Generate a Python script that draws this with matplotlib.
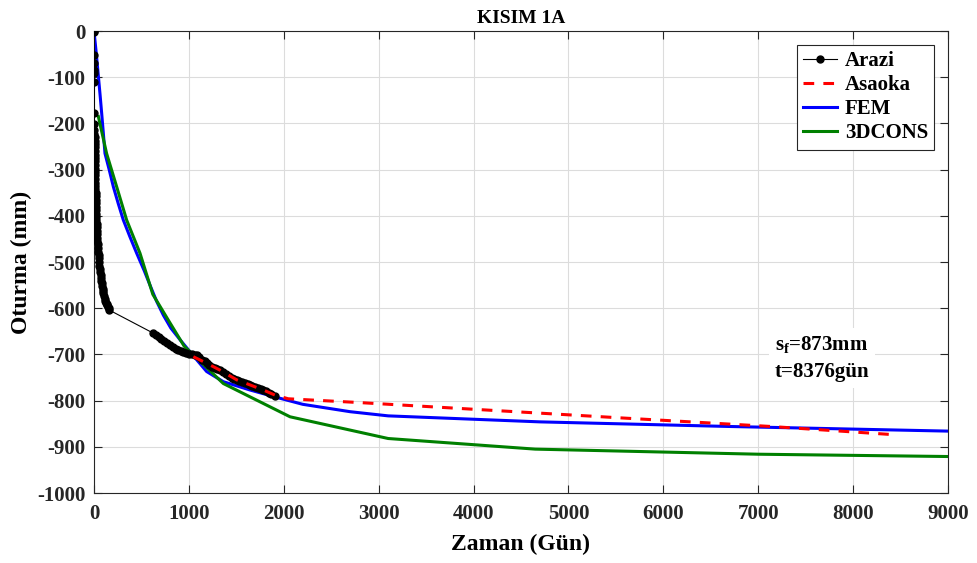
import matplotlib
matplotlib.use("Agg")
import matplotlib.pyplot as plt

# Arazi (saha ölçümleri)
arazi_gun = [0, 0, 1, 2, 2, 3, 3, 4, 4, 5, 5, 6, 6, 7, 7, 8, 8, 9, 9, 10, 10,
             11, 12, 12, 13, 14, 15, 16, 17, 18, 19, 20, 21, 22, 24, 25, 27,
             28, 30, 32, 34, 36, 39, 42, 45, 48, 52, 55, 58, 62, 66, 70, 74,
             78, 82, 86, 90, 95, 100, 105, 112, 118, 125, 132, 140, 148, 155, 161,
             625, 650, 680, 710, 740, 770, 801, 830, 860, 890, 920, 941, 970,
             1000, 1030, 1060, 1082, 1110, 1140, 1165, 1187, 1215, 1245, 1275,
             1300, 1328, 1360, 1390, 1420, 1450, 1480, 1504, 1530, 1560, 1590,
             1620, 1644, 1670, 1700, 1730, 1760, 1784, 1810, 1840, 1870, 1907]
arazi_oturma = [0, -3, -52, -69, -84, -91, -110, -178, -201, -214, -222, -230,
                -238, -245, -252, -260, -268, -275, -282, -290, -298, -305,
                -312, -320, -328, -335, -342, -350, -358, -365, -372, -380,
                -388, -395, -402, -410, -418, -425, -432, -440, -448, -455,
                -462, -470, -478, -485, -492, -500, -508, -515, -521, -528,
                -534, -540, -546, -552, -558, -563, -568, -574, -579, -584,
                -588, -591, -594, -597, -600, -604,
                -654, -657, -662, -667, -672, -676, -680, -684, -688, -691,
                -693, -694, -697, -699, -700, -701, -702, -706, -711, -715,
                -719, -723, -727, -730, -732, -734, -738, -742, -746, -750,
                -753, -755, -757, -760, -762, -764, -766, -768, -771, -773,
                -775, -777, -780, -783, -786, -790]

# Asaoka
asaoka_gun = [1047, 1187, 1328, 1504, 1644, 1784, 1907, 2047, 2779, 5521, 7137, 8376]
asaoka_oturma = [-705, -719, -734, -755, -766, -777, -788, -796, -804, -837, -856, -873]

# FEM
fem_gun = [0, 20, 45, 65, 81, 100, 116, 160, 204, 255, 309, 378, 450, 528, 600,
           660, 731, 810, 906, 1047, 1187, 1363, 1644, 1925, 2200, 2700, 3100,
           4700, 6700, 9000]
fem_oturma = [0, -40, -95, -140, -178, -225, -265, -300, -337, -373, -409, -445,
              -481, -518, -555, -585, -615, -643, -668, -703, -737, -759, -777,
              -793, -808, -824, -833, -846, -856, -866]

# 3DCONS
cons_gun = [46, 133, 239, 344, 485, 620, 784, 950, 1363, 2066, 3100, 4650, 7000, 9000]
cons_oturma = [-185, -265, -337, -409, -481, -570, -626, -682, -763, -835, -882,
               -905, -916, -921]

x_ticks = list(range(0, 9001, 1000))
y_ticks = list(range(-1000, 1, 100))

plt.rcParams['font.family'] = ['Liberation Serif', 'DejaVu Serif']
plt.rcParams['font.weight'] = 'bold'
plt.rcParams['axes.unicode_minus'] = False
plt.rcParams['mathtext.fontset'] = 'custom'
plt.rcParams['mathtext.rm'] = 'Liberation Serif:bold'
plt.rcParams['mathtext.default'] = 'rm'

fig = plt.figure(figsize=(9.77, 5.63), dpi=100)
ax = fig.add_axes([0.0962, 0.1243, 0.8741, 0.8206])

ax.plot(arazi_gun, arazi_oturma, color='black', linewidth=0.8, marker='o',
        markersize=5, label='Arazi', zorder=3)
ax.plot(asaoka_gun, asaoka_oturma, color='red', linewidth=2.2,
        dashes=(3.5, 3), label='Asaoka', zorder=4)
ax.plot(fem_gun, fem_oturma, color='blue', linewidth=2.2, label='FEM', zorder=2)
ax.plot(cons_gun, cons_oturma, color=(0, 0.5, 0), linewidth=2.2,
        label='3DCONS', zorder=2)

ax.set_xlim(0, 9000)
ax.set_ylim(-1000, 0)
ax.set_xticks(x_ticks)
ax.set_yticks(y_ticks)
ax.tick_params(direction='in', top=True, right=True, labelsize=15,
               length=6, width=0.8, colors='#262626')
ax.tick_params(axis='x', pad=8)
ax.tick_params(axis='y', pad=6)
ax.grid(True, color='#dcdcdc', linewidth=0.8)
ax.set_axisbelow(True)
for sp in ax.spines.values():
    sp.set_color('#262626')
    sp.set_linewidth(0.8)

ax.set_title('KISIM 1A', fontsize=14, fontweight='bold', pad=6)
ax.set_xlabel('Zaman (Gün)', fontsize=17, fontweight='bold', labelpad=7)
ax.set_ylabel('Oturma (mm)', fontsize=17, fontweight='bold', labelpad=4)

leg = ax.legend(loc='upper right', fontsize=15, fancybox=False,
                edgecolor='#262626', framealpha=1, handlelength=1.6,
                borderaxespad=0.65, labelspacing=0.2, borderpad=0.3,
                handletextpad=0.4)
leg.get_frame().set_linewidth(0.8)

ax.text(7177, -655, '$s_f$=873mm\nt=8376gün', fontsize=15, fontweight='bold',
        va='top', ha='left', linespacing=1.5, zorder=5,
        bbox=dict(facecolor='white', edgecolor='none', pad=4))

plt.savefig('out.png', dpi=100)
